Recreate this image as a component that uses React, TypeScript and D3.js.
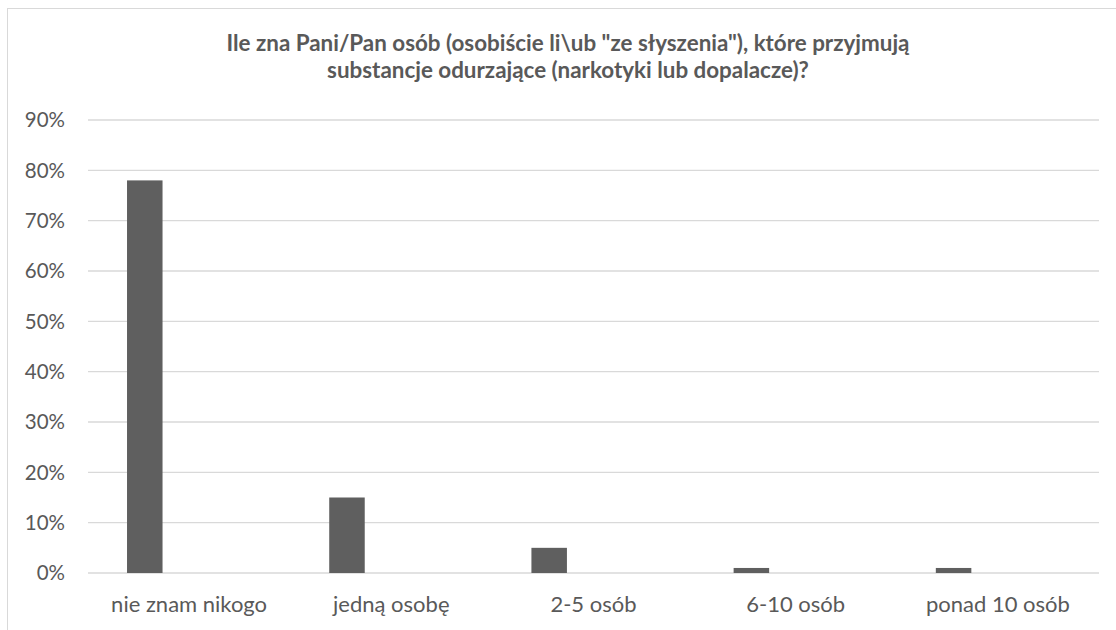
import React from "react";
import * as d3 from "d3";

const titleLines = [
  'Ile zna Pani/Pan osób (osobiście li\\ub "ze słyszenia"), które przyjmują',
  "substancje odurzające (narkotyki lub dopalacze)?",
];
const categories = ["nie znam nikogo", "jedną osobę", "2-5 osób", "6-10 osób", "ponad 10 osób"];
const values = [78, 15, 5, 1, 1];
const yTicks = [0, 10, 20, 30, 40, 50, 60, 70, 80, 90];

const W = 1116;
const H = 630;
const FONT = "Lato, 'Open Sans', sans-serif";
const TEXT = "#595959";

export default function App() {
  const left = 88;
  const right = 1099;
  const top = 120;
  const bottom = 573;

  const x = d3.scaleBand<string>().domain(categories).range([left, right]).paddingInner(0).paddingOuter(0);
  const y = d3.scaleLinear().domain([0, 90]).range([bottom, top]);
  const bw = x.bandwidth();
  const barOffset = bw * 0.193;
  const barWidth = bw * 0.1756;

  return (
    <svg
      width={W}
      height={H}
      style={{ position: "absolute", left: 0, top: 0, background: "#fff" }}
      fontFamily={FONT}
    >
      <rect x={0} y={0} width={W} height={H} fill="#fff" />
      <rect x={7.5} y={8.5} width={W + 20} height={H + 20} fill="#fff" stroke="#d9d9d9" strokeWidth={1} />
      <g fill={TEXT} fontWeight="bold" fontSize={22.4} textAnchor="middle">
        {titleLines.map((t, i) => (
          <text key={i} x={568} y={51 + i * 27}>
            {t}
          </text>
        ))}
      </g>
      <g>
        {yTicks.map((t) => (
          <g key={t}>
            <line x1={left} x2={right} y1={y(t)} y2={y(t)} stroke="#d9d9d9" strokeWidth={1.3} />
            <text x={65} y={y(t)} dy="0.36em" textAnchor="end" fontSize={20.5} fill={TEXT}>
              {t}%
            </text>
          </g>
        ))}
      </g>
      <g>
        {categories.map((c, i) => (
          <rect
            key={c}
            x={(x(c) as number) + barOffset}
            y={y(values[i])}
            width={barWidth}
            height={y(0) - y(values[i])}
            fill="#5f5f5f"
          />
        ))}
      </g>
      <g>
        {categories.map((c) => (
          <text key={c} x={(x(c) as number) + bw / 2} y={612} textAnchor="middle" fontSize={22} fill={TEXT}>
            {c}
          </text>
        ))}
      </g>
    </svg>
  );
}
